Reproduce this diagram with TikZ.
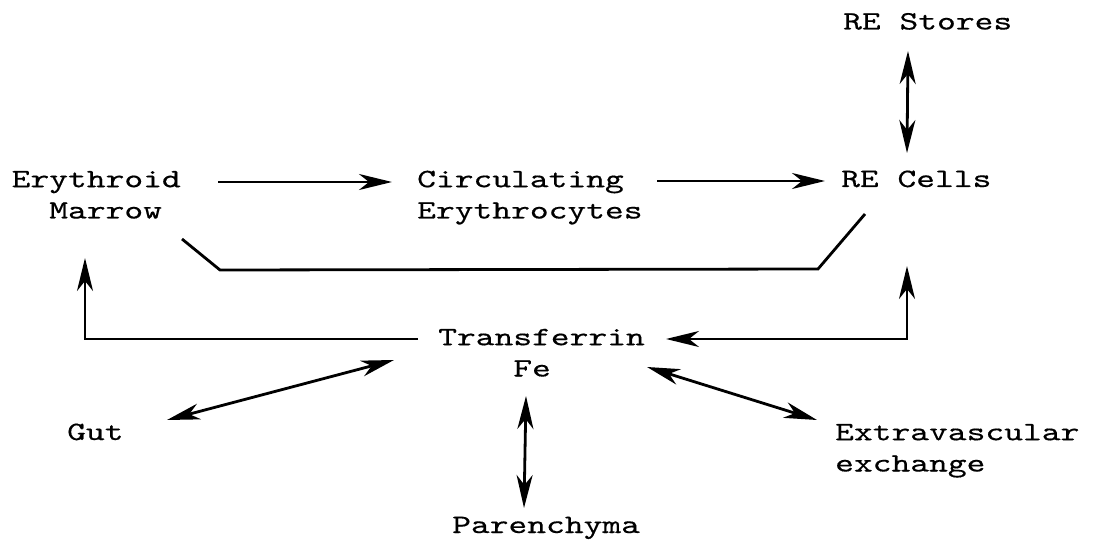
\documentclass[tikz,border=0pt]{standalone}
\usepackage{fontspec}
\newfontfamily\twfont{lmmono10-regular.otf}[FakeStretch=1.35,FakeBold=0.45]
\usetikzlibrary{arrows.meta}
\begin{document}
\begin{tikzpicture}[x=1pt,y=-1pt,
  lbl/.style={anchor=base west, inner sep=0pt, align=left,
    font=\twfont\fontsize{26.5}{31.3}\selectfont},
  conn/.style={line width=2.8pt, line join=miter},
  tip/.tip={Stealth[length=33pt,width=16pt,inset=10pt]}]
\useasboundingbox (0,0) rectangle (1098,548);
% labels (multi-line nodes: base = baseline of last line)
\node[lbl] (stores) at (843,29.5) {RE Stores};
\node[lbl] (ery) at (11.5,218.5) {Erythroid\\\phantom{Er}Marrow};
\node[lbl] (circ) at (417,218.5) {Circulating\\Erythrocytes};
\node[lbl] (cells) at (841,187) {RE Cells};
\node[lbl] (tf) at (438,376.5) {Transferrin\\\phantom{Tran}Fe};
\node[lbl] (gut) at (67,440) {Gut};
\node[lbl] (ext) at (835,471.5) {Extravascular\\exchange};
\node[lbl] (par) at (452,533) {Parenchyma};
% connector end points
\coordinate (eryR) at (218,182);
\coordinate (circL) at (392,182);
\coordinate (circR) at (657,181);
\coordinate (cellsL) at (825,181);
\coordinate (eryB) at (182,239);
\coordinate (bendL) at (220,270);
\coordinate (bendR) at (818,269);
\coordinate (cellsB) at (865,214);
\coordinate (tfL) at (418,339);
\coordinate (eryU) at (85,258);
\coordinate (cellsU) at (907,266);
\coordinate (tfR) at (666,339);
\coordinate (storesB) at (908,51);
\coordinate (cellsT) at (907,153);
\coordinate (tfB) at (526,396);
\coordinate (parT) at (524,508);
\coordinate (gutR) at (167,420);
\coordinate (tfSW) at (394,360);
\coordinate (tfSE) at (647,367);
\coordinate (extL) at (817,420);
% connectors
\draw[conn,-tip] (eryR) -- (circL);
\draw[conn,-tip] (circR) -- (cellsL);
\draw[conn] (eryB) -- (bendL) -- (bendR) -- (cellsB);
\draw[conn,-tip] (tfL) -| (eryU);
\draw[conn,tip-tip] (cellsU) |- (tfR);
\draw[conn,tip-tip] (storesB) -- (cellsT);
\draw[conn,tip-tip] (tfB) -- (parT);
\draw[conn,tip-tip] (gutR) -- (tfSW);
\draw[conn,tip-tip] (tfSE) -- (extL);
\end{tikzpicture}
\end{document}
